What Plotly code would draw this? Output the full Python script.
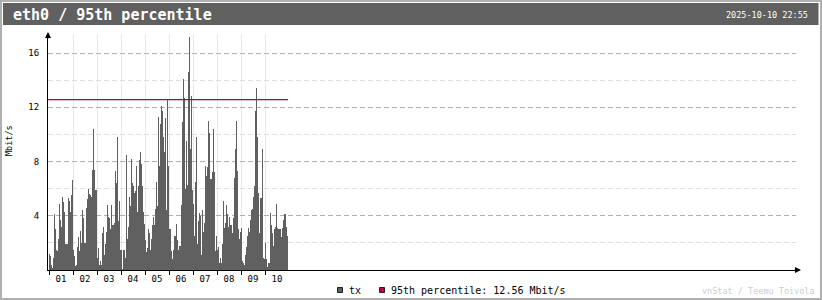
import plotly.graph_objects as go

# ---------------- data ----------------
day_labels = ["01", "02", "03", "04", "05", "06", "07", "08", "09", "10"]
tx_mbits = [
    1.2, 1.0, 0.4, 0.1, 0.9, 4.1, 3.0, 1.5, 1.4, 2.3, 4.9, 3.7, 3.2, 5.4, 5.0, 4.3,
    1.9, 1.9, 1.9, 5.3, 5.1, 4.3, 5.5, 6.6,
    1.5, 1.0, 0.3, 0.4, 1.7, 2.4, 1.4, 2.9, 2.0, 4.4, 3.8, 2.0, 2.0, 4.6, 5.2, 6.0,
    5.6, 5.5, 5.4, 7.4, 10.4, 7.4, 5.9, 5.9,
    0.9, 1.6, 0.4, 0.7, 0.4, 2.7, 3.2, 1.1, 1.9, 2.8, 4.8, 3.9, 3.8, 3.0, 4.8, 3.3,
    3.3, 3.5, 7.3, 6.4, 9.8, 3.6, 5.1, 1.5,
    1.5, 0.05, 1.5, 1.5, 0.9, 8.5, 2.3, 3.2, 5.4, 4.7, 8.2, 6.4, 6.2, 5.7, 5.8, 7.7,
    4.3, 6.2, 8.1, 8.7, 7.8, 6.2, 4.3, 3.4,
    2.2, 1.3, 1.6, 3.0, 2.7, 1.5, 2.3, 3.3, 3.9, 3.3, 4.5, 6.5, 4.7, 11.3, 7.7, 10.8,
    12.1, 11.7, 9.8, 8.7, 11.2, 4.4, 12.6, 7.7,
    3.0, 3.0, 1.4, 0.8, 1.5, 2.5, 2.5, 3.4, 2.2, 1.5, 1.8, 1.8, 4.8, 10.9, 14.1, 12.7,
    6.0, 9.5, 6.3, 14.6, 17.2, 8.9, 12.8, 5.9,
    4.9, 2.5, 6.5, 9.8, 1.9, 3.6, 4.2, 4.0, 1.1, 4.4, 2.8, 3.5, 7.7, 6.9, 7.6, 11.0,
    10.1, 6.7, 6.7, 7.2, 10.4, 7.2, 1.4, 2.5,
    1.5, 1.7, 0.5, 0.9, 0.5, 1.9, 5.1, 3.1, 3.5, 4.8, 4.1, 3.2, 3.9, 3.3, 3.3, 2.7,
    3.8, 6.8, 8.9, 11.0, 7.3, 3.0, 2.3, 2.8,
    3.1, 0.7, 0.5, 0.4, 1.1, 1.7, 2.5, 3.1, 2.8, 3.7, 4.4, 4.5, 5.4, 6.2, 11.7, 13.4,
    9.8, 5.7, 2.7, 5.3, 5.3, 8.9, 0.9, 0.8,
    2.0, 0.8, 0.25, 0.5, 0.5, 4.2, 3.3, 2.7, 1.8, 3.0, 3.2, 4.9, 3.1, 3.0, 3.0, 3.0,
    2.4, 3.1, 3.7, 4.1, 4.1, 3.2, 2.5,
]
percentile_95 = 12.56
y_ticks = [4, 8, 12, 16]
y_minor_ticks = [2, 6, 10, 14]
title_text = "eth0 / 95th percentile"
date_text = "2025-10-10 22:55"
unit = "Mbit/s"

hours = list(range(len(tx_mbits)))

# ---------------- layout geometry (pixels) ----------------
FW, FH = 822, 300
L, R, T, B = 48, 796, 34, 270
W, H = R - L, B - T
PX_PER_UNIT = 13.5625


def px(x):
    return (x - L) / W


def py(y):
    return (B - y) / H


MONO = "DejaVu Sans Mono"
BAR_COLOR = "#606060"
PCT_COLOR = "#b00034"

fig = go.Figure()
fig.add_trace(go.Bar(
    x=hours, y=tx_mbits, width=1,
    marker=dict(color=BAR_COLOR, line=dict(width=0)),
    showlegend=False, hoverinfo="skip",
))
fig.add_trace(go.Scatter(
    x=[-1.3, len(tx_mbits) - 0.5], y=[percentile_95, percentile_95],
    mode="lines", line=dict(color=PCT_COLOR, width=1.2),
    showlegend=False, hoverinfo="skip",
))

day_centers = [24 * k + 11.5 for k in range(len(day_labels))]
day_bounds = [24 * k - 0.5 for k in range(len(day_labels))]

fig.update_layout(
    width=FW, height=FH,
    margin=dict(l=L, r=FW - R, t=T, b=FH - B, pad=0),
    paper_bgcolor="white", plot_bgcolor="white",
    bargap=0,
    showlegend=False,
    xaxis=dict(
        range=[-1.5, -1.5 + W],
        showline=True, linecolor="black", linewidth=1,
        tickmode="array", tickvals=day_centers, ticktext=day_labels,
        ticks="", showgrid=False, zeroline=False,
        tickfont=dict(family=MONO, size=9, color="black"),
        minor=dict(
            tickmode="array", tickvals=day_bounds,
            ticks="outside", ticklen=4, tickcolor="black", tickwidth=1,
            showgrid=True, gridcolor="#e8e8e8", gridwidth=1,
        ),
        fixedrange=True,
    ),
    yaxis=dict(
        range=[0, H / PX_PER_UNIT],
        showline=True, linecolor="black", linewidth=1,
        tickmode="array", tickvals=y_ticks, ticktext=[str(v) for v in y_ticks],
        ticks="", zeroline=False,
        showgrid=True, gridcolor="#b0b0b0", gridwidth=1, griddash="5px,3px",
        tickfont=dict(family=MONO, size=9, color="black"),
        ticklabelstandoff=6,
        minor=dict(
            tickmode="array", tickvals=y_minor_ticks, ticks="",
            showgrid=True, gridcolor="#dedede", gridwidth=1, griddash="5px,3px",
        ),
        fixedrange=True,
    ),
)

shapes = [
    # outer frame
    dict(type="rect", xref="paper", yref="paper",
         x0=px(1), x1=px(FW - 1), y0=py(1), y1=py(FH - 1),
         line=dict(color="#b0b0b0", width=2), fillcolor="rgba(0,0,0,0)", layer="below"),
    # title bar
    dict(type="rect", xref="paper", yref="paper",
         x0=px(3), x1=px(818.5), y0=py(3), y1=py(25),
         line=dict(width=0), fillcolor=BAR_COLOR, layer="above"),
    # legend swatches
    dict(type="rect", xref="paper", yref="paper",
         x0=px(337.5), x1=px(342.5), y0=py(287.5), y1=py(292.5),
         line=dict(color="#202020", width=1), fillcolor=BAR_COLOR),
    dict(type="rect", xref="paper", yref="paper",
         x0=px(379.5), x1=px(384.5), y0=py(287.5), y1=py(292.5),
         line=dict(color="#202020", width=1), fillcolor="#c8004a"),
]

annotations = [
    dict(text=title_text, x=px(11), y=py(14.5), xref="paper", yref="paper",
         xanchor="left", yanchor="middle", showarrow=False,
         font=dict(family=MONO, size=15, color="white", weight="bold")),
    dict(text=date_text, x=px(810), y=py(14.5), xref="paper", yref="paper",
         xanchor="right", yanchor="middle", showarrow=False,
         font=dict(family=MONO, size=8.5, color="white")),
    dict(text=unit, x=px(9), y=py(141), xref="paper", yref="paper",
         xanchor="center", yanchor="middle", showarrow=False, textangle=-90,
         font=dict(family=MONO, size=8.5, color="black")),
    dict(text="tx", x=px(347), y=py(290.5), xref="paper", yref="paper",
         xanchor="left", yanchor="middle", showarrow=False,
         font=dict(family=MONO, size=10, color="black")),
    dict(text=f"95th percentile: {percentile_95:.2f} {unit}", x=px(389), y=py(290.5),
         xref="paper", yref="paper",
         xanchor="left", yanchor="middle", showarrow=False,
         font=dict(family=MONO, size=10, color="black")),
    dict(text="vnStat / Teemu Toivola", x=px(817), y=py(291), xref="paper", yref="paper",
         xanchor="right", yanchor="middle", showarrow=False,
         font=dict(family=MONO, size=8.5, color="#cccccc")),
    # axis arrows
    dict(text="", x=0, y=py(32), xref="paper", yref="paper", ax=0, ay=8,
         showarrow=True, arrowhead=2, arrowsize=1.2, arrowwidth=1, arrowcolor="black"),
    dict(text="", x=px(801), y=0, xref="paper", yref="paper", ax=-8, ay=0,
         showarrow=True, arrowhead=2, arrowsize=1.2, arrowwidth=1, arrowcolor="black"),
]

fig.update_layout(shapes=shapes, annotations=annotations)
fig.write_html("out.html", config={"displayModeBar": False})
